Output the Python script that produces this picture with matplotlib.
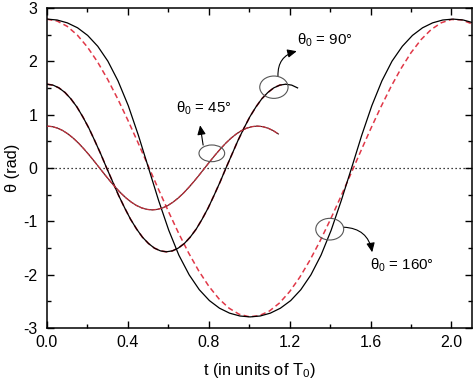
import matplotlib
matplotlib.use("Agg")
import matplotlib.pyplot as plt
from matplotlib.patches import Ellipse
from matplotlib.ticker import MultipleLocator, FormatStrFormatter

plt.rcParams['font.family'] = ['Liberation Sans', 'DejaVu Sans']
plt.rcParams['mathtext.fontset'] = 'custom'
plt.rcParams['mathtext.rm'] = 'Liberation Sans'
plt.rcParams['mathtext.it'] = 'Liberation Sans:italic'
plt.rcParams['axes.unicode_minus'] = False

# theta0 = 160 deg, exact solution (black)
t_160 = [0.000, 0.050, 0.100, 0.151, 0.201, 0.251, 0.301, 0.351, 0.402, 0.452,
         0.502, 0.552, 0.602, 0.652, 0.703, 0.753, 0.803, 0.853, 0.903, 0.954,
         1.004, 1.054, 1.104, 1.154, 1.205, 1.255, 1.305, 1.355, 1.405, 1.455,
         1.506, 1.556, 1.606, 1.656, 1.706, 1.757, 1.807, 1.857, 1.907, 1.957,
         2.008, 2.058, 2.108]
th_160 = [2.792, 2.775, 2.722, 2.629, 2.486, 2.282, 2.003, 1.634, 1.167, 0.611,
          0.000, -0.611, -1.167, -1.634, -2.003, -2.282, -2.486, -2.629, -2.722, -2.775,
          -2.792, -2.775, -2.722, -2.629, -2.486, -2.282, -2.003, -1.634, -1.167, -0.611,
          0.000, 0.611, 1.167, 1.634, 2.003, 2.282, 2.486, 2.629, 2.722, 2.775,
          2.792, 2.775, 2.722]

# theta0 = 160 deg, approximation (red dashed)
t_160a = [0.00, 0.05, 0.10, 0.15, 0.20, 0.25, 0.30, 0.35, 0.40, 0.45,
          0.50, 0.55, 0.60, 0.65, 0.70, 0.75, 0.80, 0.85, 0.90, 0.95,
          1.00, 1.05, 1.10, 1.15, 1.20, 1.25, 1.30, 1.35, 1.40, 1.45,
          1.50, 1.55, 1.60, 1.65, 1.70, 1.75, 1.80, 1.85, 1.90, 1.95,
          2.00, 2.05, 2.10]
th_160a = [2.790, 2.756, 2.656, 2.492, 2.267, 1.988, 1.661, 1.294, 0.895, 0.475,
           0.043, -0.389, -0.812, -1.216, -1.591, -1.927, -2.216, -2.452, -2.628, -2.742,
           -2.789, -2.768, -2.681, -2.530, -2.317, -2.048, -1.729, -1.370, -0.977, -0.560,
           -0.130, 0.303, 0.729, 1.137, 1.518, 1.862, 2.162, 2.409, 2.598, 2.724,
           2.785, 2.778, 2.704]

# theta0 = 90 deg
t_90 = [0.000, 0.030, 0.059, 0.089, 0.118, 0.148, 0.177, 0.207, 0.236, 0.266,
        0.295, 0.325, 0.354, 0.384, 0.413, 0.443, 0.472, 0.502, 0.531, 0.561,
        0.590, 0.620, 0.649, 0.679, 0.708, 0.738, 0.767, 0.797, 0.826, 0.856,
        0.885, 0.915, 0.944, 0.974, 1.003, 1.033, 1.062, 1.092, 1.121, 1.151,
        1.180, 1.210, 1.239]
th_90 = [1.571, 1.554, 1.502, 1.416, 1.297, 1.144, 0.960, 0.748, 0.513, 0.261,
         0.000, -0.261, -0.513, -0.748, -0.960, -1.144, -1.297, -1.416, -1.502, -1.554,
         -1.571, -1.554, -1.502, -1.416, -1.297, -1.144, -0.960, -0.748, -0.513, -0.261,
         0.000, 0.261, 0.513, 0.748, 0.960, 1.144, 1.297, 1.416, 1.502, 1.554,
         1.571, 1.554, 1.502]

# theta0 = 45 deg
t_45 = [0.000, 0.026, 0.052, 0.078, 0.104, 0.130, 0.156, 0.182, 0.208, 0.234,
        0.260, 0.286, 0.312, 0.338, 0.364, 0.390, 0.416, 0.442, 0.468, 0.494,
        0.520, 0.546, 0.572, 0.598, 0.624, 0.650, 0.676, 0.702, 0.728, 0.754,
        0.780, 0.806, 0.832, 0.858, 0.884, 0.910, 0.936, 0.962, 0.988, 1.014,
        1.040, 1.066, 1.092, 1.118, 1.144]
th_45 = [0.785, 0.776, 0.748, 0.702, 0.638, 0.559, 0.466, 0.360, 0.246, 0.125,
         0.000, -0.125, -0.246, -0.360, -0.466, -0.559, -0.638, -0.702, -0.748, -0.776,
         -0.785, -0.776, -0.748, -0.702, -0.638, -0.559, -0.466, -0.360, -0.246, -0.125,
         0.000, 0.125, 0.246, 0.360, 0.466, 0.559, 0.638, 0.702, 0.748, 0.776,
         0.785, 0.776, 0.748, 0.702, 0.638]

RED = '#e03848'

fig = plt.figure(figsize=(4.74, 3.82), dpi=100)
ax = fig.add_axes([47 / 474, 1 - 328 / 382, 424.7 / 474, 320 / 382])

ax.axhline(0, color='black', lw=0.9, ls=(0, (1, 2.2)), zorder=1)

ax.plot(t_160a, th_160a, color=RED, lw=1.1, ls=(0, (3.5, 2.2)), zorder=2)
ax.plot(t_160, th_160, color='black', lw=0.9, zorder=3)

ax.plot(t_90[:41], th_90[:41], color=RED, lw=1.2, ls=(0, (3.5, 2.2)), zorder=2)
ax.plot(t_90, th_90, color='black', lw=0.9, zorder=3)

ax.plot(t_45, th_45, color='#402020', lw=0.8, zorder=2)
ax.plot(t_45, th_45, color='#c0303c', lw=0.9, ls=(0, (4, 0.8)), zorder=3)

ax.set_xlim(0, 2.1)
ax.set_ylim(-3, 3)
ax.xaxis.set_major_locator(MultipleLocator(0.4))
ax.xaxis.set_minor_locator(MultipleLocator(0.2))
ax.xaxis.set_major_formatter(FormatStrFormatter('%.1f'))
ax.yaxis.set_major_locator(MultipleLocator(1))
ax.yaxis.set_minor_locator(MultipleLocator(0.5))
ax.tick_params(which='both', direction='in', top=True, right=True, width=1.0)
ax.tick_params(which='major', length=5, labelsize=11.5)
ax.tick_params(axis='x', which='major', pad=5)
ax.tick_params(axis='y', which='major', pad=7)
ax.tick_params(which='minor', length=3)
for s in ax.spines.values():
    s.set_linewidth(1.1)

ax.set_xlabel('t (in units of T$_0$)', fontsize=11.8, labelpad=8)
ax.set_ylabel('θ (rad)', fontsize=11.8, labelpad=2)

# ellipses marking the curves
for cx, cy, w, h in [(0.815, 0.275, 0.127, 0.313),
                     (1.122, 1.515, 0.140, 0.419),
                     (1.398, -1.147, 0.138, 0.406)]:
    ax.add_patch(Ellipse((cx, cy), w, h, fill=False, ec='#555555', lw=0.8, zorder=4))

arrow = dict(arrowstyle='-|>,head_length=0.55,head_width=0.25', color='black', lw=0.8,
             shrinkA=0, shrinkB=0)
ax.annotate('', xy=(0.757, 0.80), xytext=(0.772, 0.43),
            arrowprops=dict(arrow, connectionstyle='arc3,rad=0'))
ax.annotate('', xy=(1.235, 2.19), xytext=(1.142, 1.725),
            arrowprops=dict(arrow, connectionstyle='arc3,rad=-0.4'))
ax.annotate('', xy=(1.608, -1.58), xytext=(1.467, -1.11),
            arrowprops=dict(arrow, connectionstyle='arc3,rad=-0.4'))

ax.text(0.64, 1.12, 'θ$_0$ = 45°', fontsize=10.8, va='center', ha='left')
ax.text(1.235, 2.40, 'θ$_0$ = 90°', fontsize=10.8, va='center', ha='left')
ax.text(1.595, -1.82, 'θ$_0$ = 160°', fontsize=10.8, va='center', ha='left')

fig.savefig('out.png', dpi=100)
